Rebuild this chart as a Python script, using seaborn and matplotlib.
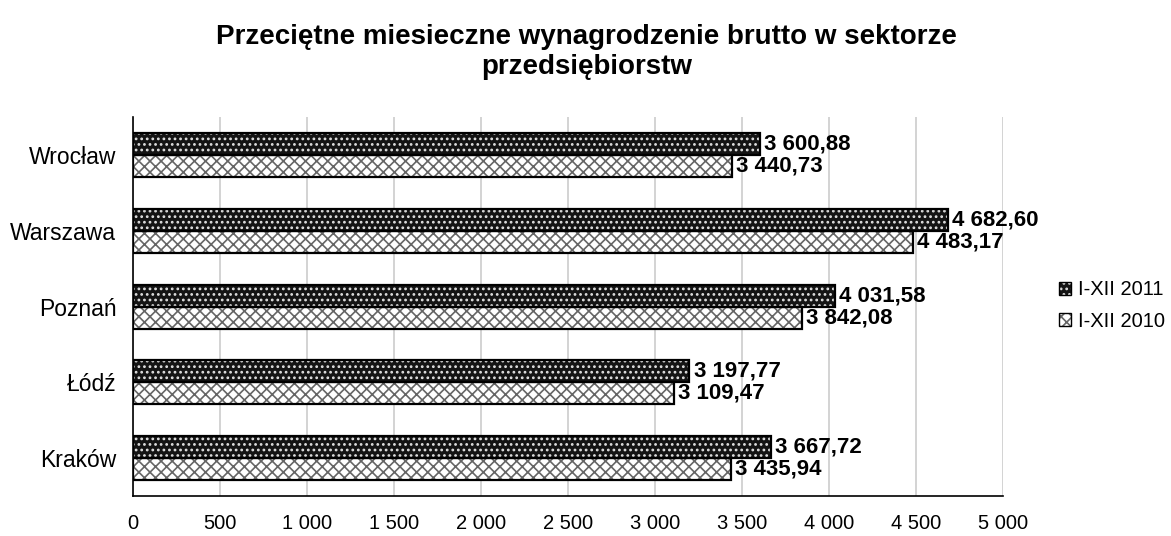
import matplotlib
matplotlib.use("Agg")
import matplotlib.pyplot as plt
import seaborn as sns
import pandas as pd
from matplotlib.patches import Rectangle, Patch
from matplotlib.legend_handler import HandlerTuple
from matplotlib.ticker import FuncFormatter, MultipleLocator

cities = ["Wrocław", "Warszawa", "Poznań", "Łódź", "Kraków"]
series_names = ["I-XII 2011", "I-XII 2010"]
v2011 = [3600.88, 4682.60, 4031.58, 3197.77, 3667.72]
v2010 = [3440.73, 4483.17, 3842.08, 3109.47, 3435.94]
title = "Przeciętne miesieczne wynagrodzenie brutto w sektorze\nprzedsiębiorstw"

df = pd.DataFrame({
    "miasto": cities * 2,
    "okres": [series_names[0]] * len(cities) + [series_names[1]] * len(cities),
    "wartosc": v2011 + v2010,
})

sns.set_style("white")
plt.rcParams["font.family"] = ["Liberation Sans", "DejaVu Sans"]
plt.rcParams["text.color"] = "black"
plt.rcParams["xtick.color"] = "black"
plt.rcParams["ytick.color"] = "black"
plt.rcParams["hatch.linewidth"] = 1.2

fig = plt.figure(figsize=(11.71, 5.36), dpi=100)
ax = fig.add_axes([0.1136, 0.0746, 0.743, 0.707])

sns.barplot(data=df, y="miasto", x="wartosc", hue="okres", order=cities,
            hue_order=series_names, orient="h", width=0.58, ax=ax,
            legend=False, errorbar=None)

styles = {
    series_names[0]: dict(facecolor="#141414", edgecolor="#e0e0e0", hatch="..."),
    series_names[1]: dict(facecolor="white", edgecolor="#666666", hatch="xxx"),
}

def fmt_val(v):
    return f"{v:,.2f}".replace(",", " ").replace(".", ",")

for container, name in zip(ax.containers, series_names):
    st = styles[name]
    for bar in container:
        bar.set_facecolor(st["facecolor"])
        bar.set_edgecolor(st["edgecolor"])
        bar.set_hatch(st["hatch"])
        bar.set_linewidth(0)
        ax.add_patch(Rectangle(bar.get_xy(), bar.get_width(), bar.get_height(),
                               fill=False, edgecolor="black", linewidth=1.6, zorder=3))
    ax.bar_label(container, labels=[fmt_val(v) for v in container.datavalues],
                 padding=3, fontsize=16, fontweight="bold", color="black")

ax.set_xlim(0, 5000)
ax.set_ylim(len(cities) - 0.5, -0.5)
ax.xaxis.set_major_locator(MultipleLocator(500))
ax.xaxis.set_major_formatter(FuncFormatter(lambda x, p: f"{int(x):,}".replace(",", " ")))
ax.grid(axis="x", color="#c8c8c8", linewidth=1.1)
ax.set_axisbelow(True)
ax.set_xlabel("")
ax.set_ylabel("")

for s in ["top", "right"]:
    ax.spines[s].set_visible(False)
for s in ["left", "bottom"]:
    ax.spines[s].set_color("black")
    ax.spines[s].set_linewidth(1.2)

ax.set_yticks(range(len(cities)))
ax.set_yticklabels(cities)
ax.set_yticks([i - 0.5 for i in range(len(cities) + 1)], minor=True)
ax.tick_params(axis="y", which="major", length=0, pad=12, labelsize=16.5)
ax.tick_params(axis="y", which="minor", length=7, width=1.2, color="black", direction="out")
ax.tick_params(axis="x", which="major", length=7, width=1.2, color="black",
               direction="out", pad=6, labelsize=14.5)

fig.suptitle(title, x=0.501, y=0.955, va="top", fontsize=20, fontweight="bold",
             linespacing=1.2)

handles = []
for name in series_names:
    st = styles[name]
    handles.append((Patch(facecolor=st["facecolor"], edgecolor=st["edgecolor"],
                          hatch=st["hatch"], linewidth=0),
                    Patch(fill=False, edgecolor="black", linewidth=1.0)))
fig.legend(handles, series_names, handler_map={tuple: HandlerTuple(ndivide=1)},
           loc="center left", bbox_to_anchor=(0.889, 0.43), frameon=False,
           fontsize=14.5, handlelength=0.6, handleheight=0.6, handletextpad=0.35,
           labelspacing=0.6)

fig.savefig("out.png", dpi=100)
